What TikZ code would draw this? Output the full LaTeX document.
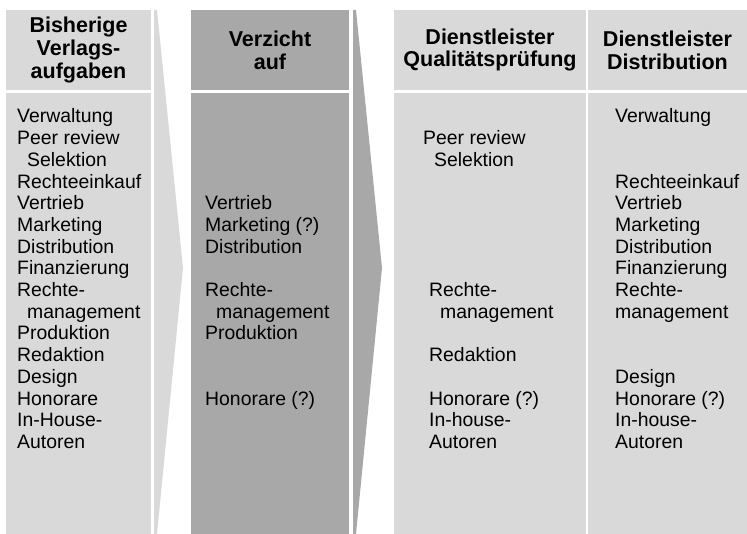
\documentclass[tikz,border=0pt]{standalone}
\usepackage{fontspec}
\setmainfont{Liberation Sans}
\usepackage{tikz}
\definecolor{hellgrau}{RGB}{217,217,217}
\definecolor{dunkelgrau}{RGB}{168,168,168}
\tikzstyle{kopf} = [rectangle, inner sep=0pt, align=center, minimum height=80pt, font=\fontsize{21.5}{22.8}\selectfont\bfseries]
\tikzstyle{feld} = [rectangle, inner sep=0pt, minimum height=441pt]
\tikzstyle{eintrag} = [anchor=base west, inner sep=0pt, font=\fontsize{19.4}{21.7}\selectfont]

\begin{document}
\begin{tikzpicture}[x=1pt,y=-1pt]
  \useasboundingbox (0,0) rectangle (747,534);
  % Spaltenkoepfe
  \draw (78.5,50)node[kopf, fill=hellgrau, minimum width=145pt](k1){Bisherige\\Verlags-\\aufgaben};
  \draw (270,50)node[kopf, fill=dunkelgrau, minimum width=158pt](k2){Verzicht\\auf};
  \draw (490,50)node[kopf, fill=hellgrau, minimum width=192pt](k3){Dienstleister\\Qualitätsprüfung};
  \draw (667.5,50)node[kopf, fill=hellgrau, minimum width=159pt](k4){Dienstleister\\Distribution};
  % Spaltenfelder
  \draw (78.5,313.5)node[feld, fill=hellgrau, minimum width=145pt](f1){};
  \draw (270,313.5)node[feld, fill=dunkelgrau, minimum width=158pt](f2){};
  \draw (490,313.5)node[feld, fill=hellgrau, minimum width=192pt](f3){};
  \draw (667.5,313.5)node[feld, fill=hellgrau, minimum width=159pt](f4){};
  % Pfeile
  \fill[hellgrau] (154,10) -- (157,10) -- (183,268) -- (157,534) -- (154,534) -- cycle;
  \fill[dunkelgrau] (353,10) -- (356,10) -- (382,268) -- (356,534) -- (353,534) -- cycle;
  % Eintraege
  \foreach \r/\x/\t in {0/17/Verwaltung, 1/17/Peer review, 2/27/Selektion, 3/17/Rechteeinkauf,
      4/17/Vertrieb, 5/17/Marketing, 6/17/Distribution, 7/17/Finanzierung, 8/17/Rechte-,
      9/27/management, 10/17/Produktion, 11/17/Redaktion, 12/17/Design, 13/17/Honorare,
      14/17/In-House-, 15/17/Autoren}
    \draw (\x,{123+21.7*\r})node[eintrag](alt-\r){\t};
  \foreach \r/\x/\t in {4/205/Vertrieb, 5/205/Marketing (?), 6/205/Distribution, 8/205/Rechte-,
      9/216/management, 10/205/Produktion, 13/205/Honorare (?)}
    \draw (\x,{123+21.7*\r})node[eintrag](ohne-\r){\t};
  \foreach \r/\x/\t in {1/423/Peer review, 2/434/Selektion, 8/429/Rechte-, 9/440/management,
      11/429/Redaktion, 13/429/Honorare (?), 14/429/In-house-, 15/429/Autoren}
    \draw (\x,{123+21.7*\r})node[eintrag](qual-\r){\t};
  \foreach \r/\x/\t in {0/615/Verwaltung, 3/615/Rechteeinkauf, 4/615/Vertrieb, 5/615/Marketing,
      6/615/Distribution, 7/615/Finanzierung, 8/615/Rechte-, 9/615/management, 12/615/Design,
      13/615/Honorare (?), 14/615/In-house-, 15/615/Autoren}
    \draw (\x,{123+21.7*\r})node[eintrag](dist-\r){\t};
\end{tikzpicture}
\end{document}
